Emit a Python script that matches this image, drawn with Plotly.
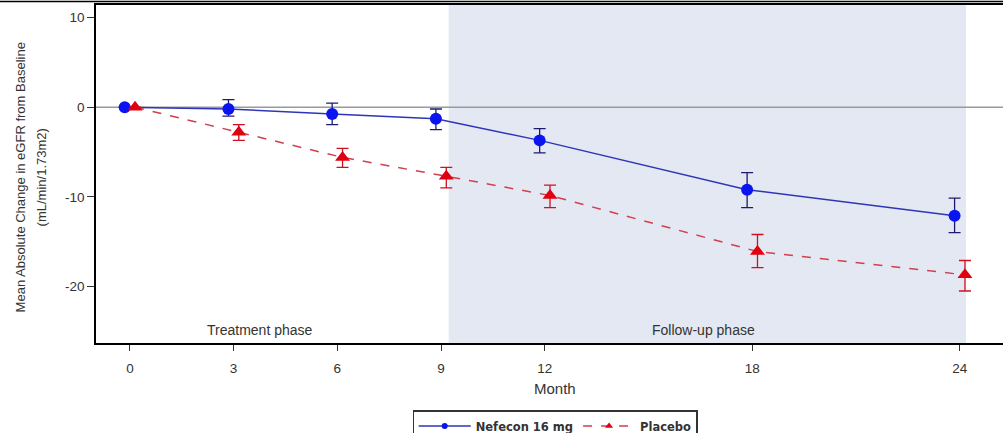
import plotly.graph_objects as go

months = [0, 3, 6, 9, 12, 18, 24]
tick_labels = ["0", "3", "6", "9", "12", "18", "24"]

nef_mean = [0.0, -0.2, -0.75, -1.3, -3.7, -9.2, -12.1]
nef_upper = [0.0, 0.85, 0.45, -0.2, -2.4, -7.3, -10.15]
nef_lower = [0.0, -1.0, -1.95, -2.5, -5.1, -11.2, -14.0]

pla_mean = [0.0, -2.8, -5.6, -7.7, -9.85, -16.1, -18.7]
pla_upper = [0.0, -1.95, -4.6, -6.7, -8.7, -14.2, -17.1]
pla_lower = [0.0, -3.7, -6.7, -9.0, -11.2, -17.9, -20.5]

offset = 0.15
nef_x = [m - offset for m in months]
pla_x = [m + offset for m in months]

PL, PT, PB = 96, 5, 90.3
W, H = 1003, 433
PW = W - PL
PH = H - PT - PB

NEF_LINE, NEF_MARK, NEF_ERR = "#2E35B8", "#0A14F0", "#1C1C6E"
PLA_LINE, PLA_MARK, PLA_ERR = "#D0404E", "#E00010", "#D01020"

fig = go.Figure()

# shaded follow-up region
fig.add_shape(type="rect", xref="x", yref="paper", x0=9.22, x1=24.18, y0=0, y1=1,
              fillcolor="#E4E8F2", line=dict(width=0), layer="below")
# zero reference line
fig.add_shape(type="line", xref="paper", yref="y", x0=0, x1=1, y0=0, y1=0,
              line=dict(color="#9A9A9A", width=1.5), layer="below")
# top border line of figure
fig.add_shape(type="line", xref="paper", yref="paper", x0=-PL / PW, x1=1, y0=1 + 3.5 / PH, y1=1 + 3.5 / PH,
              line=dict(color="black", width=1.5))

fig.add_trace(go.Scatter(
    x=nef_x, y=nef_mean, mode="lines+markers", name="Nefecon 16 mg", showlegend=False,
    line=dict(color=NEF_LINE, width=1.5),
    marker=dict(symbol="circle", size=12, color=NEF_MARK),
    error_y=dict(type="data", symmetric=False,
                 array=[u - m for u, m in zip(nef_upper, nef_mean)],
                 arrayminus=[m - l for m, l in zip(nef_mean, nef_lower)],
                 color=NEF_ERR, thickness=1.3, width=6),
))
fig.add_trace(go.Scatter(
    x=pla_x, y=pla_mean, mode="lines+markers", name="Placebo", showlegend=False,
    line=dict(color=PLA_LINE, width=1.5, dash="dash"),
    marker=dict(symbol="triangle-up", size=13, color=PLA_MARK),
    error_y=dict(type="data", symmetric=False,
                 array=[u - m for u, m in zip(pla_upper, pla_mean)],
                 arrayminus=[m - l for m, l in zip(pla_mean, pla_lower)],
                 color=PLA_ERR, thickness=1.3, width=6),
))
# legend-only entries with small symbols
fig.add_trace(go.Scatter(x=[None], y=[None], mode="lines+markers", name="Nefecon 16 mg",
                         line=dict(color=NEF_LINE, width=1.5),
                         marker=dict(symbol="circle", size=6, color=NEF_MARK)))
fig.add_trace(go.Scatter(x=[None], y=[None], mode="lines+markers", name="Placebo",
                         line=dict(color=PLA_LINE, width=1.5, dash="dash"),
                         marker=dict(symbol="triangle-up", size=7, color=PLA_MARK)))

fig.add_annotation(x=3.75, y=-24.9, xref="x", yref="y", text="Treatment phase",
                   showarrow=False, font=dict(size=14, color="#333333"))
fig.add_annotation(x=16.6, y=-24.9, xref="x", yref="y", text="Follow-up phase",
                   showarrow=False, font=dict(size=14, color="#333333"))
fig.add_annotation(x=(555 - PL) / PW, y=(PH + PT - 388) / PH, xref="paper", yref="paper",
                   xanchor="center", yanchor="middle",
                   text="Month", showarrow=False, font=dict(size=15, color="#333333"))
fig.add_annotation(x=(20 - PL) / PW, y=0.49, xref="paper", yref="paper", textangle=-90,
                   xanchor="center", yanchor="middle",
                   text="Mean Absolute Change in eGFR from Baseline", showarrow=False,
                   font=dict(size=13, color="#333333"))
fig.add_annotation(x=(41 - PL) / PW, y=0.49, xref="paper", yref="paper", textangle=-90,
                   xanchor="center", yanchor="middle",
                   text="(mL/min/1.73m2)", showarrow=False,
                   font=dict(size=13, color="#333333"))

fig.update_layout(
    width=W, height=H,
    margin=dict(l=PL, r=0, t=PT, b=PB, autoexpand=False),
    plot_bgcolor="white", paper_bgcolor="white",
    font=dict(family="Liberation Sans, Arial, sans-serif", color="#333333"),
    showlegend=True,
    legend=dict(orientation="h", x=(555 - PL) / PW, xanchor="center",
                y=(PH + PT - 410) / PH, yanchor="top",
                bordercolor="#333333", borderwidth=1.2,
                font=dict(size=11.5, color="#333333", family="DejaVu Sans", weight="bold"),
                itemwidth=52, tracegroupgap=0),
)
fig.update_xaxes(range=[-0.98, 25.25], tickvals=months, ticktext=tick_labels,
                 showgrid=False, zeroline=False, showline=True, linecolor="black", linewidth=1.5,
                 mirror=True, ticks="outside", ticklen=6, tickcolor="#333333",
                 ticklabelstandoff=6,
                 tickfont=dict(size=13.5, color="#333333"))
fig.update_yaxes(range=[-26.3, 11.4], tickvals=[10, 0, -10, -20], ticktext=["10", "0", "-10", "-20"],
                 showgrid=False, zeroline=False, showline=True, linecolor="black", linewidth=1.5,
                 ticks="outside", ticklen=7, tickcolor="#333333",
                 tickfont=dict(size=13.5, color="#333333"))

fig.write_html("out.html", config={"displayModeBar": False},
               post_script="document.body.style.margin='0';document.body.style.overflow='hidden';")
